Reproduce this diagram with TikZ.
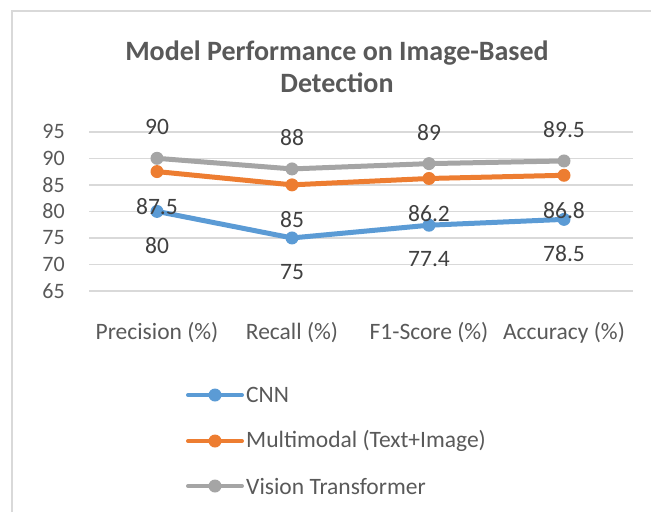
\documentclass[tikz,border=0pt]{standalone}
\usepackage{fontspec}
\setmainfont{Carlito}
\usepackage{xcolor}
\usetikzlibrary{calc}
\definecolor{cnnblue}{HTML}{5B9BD5}
\definecolor{mmorange}{HTML}{ED7D31}
\definecolor{vitgray}{HTML}{A5A5A5}
\definecolor{txtgray}{HTML}{595959}
\definecolor{lblgray}{HTML}{404040}
\definecolor{gridgray}{HTML}{D9D9D9}

\begin{document}
\begin{tikzpicture}[x=1pt,y=-1pt,
  series/.style={line width=5pt, line join=round, line cap=round},
  dot/.style={circle, fill=#1, inner sep=0pt, minimum size=13pt},
  val/.style={text=lblgray, inner sep=0pt, font=\fontsize{23.5}{28}\selectfont},
  tick/.style={text=txtgray, inner sep=0pt, anchor=east, font=\fontsize{22}{26}\selectfont},
  cat/.style={text=txtgray, inner sep=0pt, font=\fontsize{23.5}{28}\selectfont},
  legtext/.style={text=txtgray, inner sep=0pt, anchor=west, font=\fontsize{23.5}{28}\selectfont}]
\useasboundingbox (0,0) rectangle (651,512);
\def\py#1{158.3+(90-#1)*5.31}
% frame (only top and left edge show)
\draw[gridgray, line width=2pt] (11.5,512) -- (11.5,11) -- (651,11);
% title
\node[text=txtgray, align=center, inner sep=0pt,
  font=\bfseries\fontsize{28}{31.5}\selectfont] (title) at (337,67)
  {Model Performance on Image-Based\\Detection};
% grid and y axis
\foreach \v in {65,70,...,95} {
  \draw[gridgray, line width=1.5pt] (89,{\py{\v}}) -- (633,{\py{\v}});
  \node[tick] (tick\v) at (65,{\py{\v}}) {\v};
}
% categories
\node[cat] (c1) at (157,333) {Precision (\%)};
\node[cat] (c2) at (292,333) {Recall (\%)};
\node[cat] (c3) at (429,333) {F1-Score (\%)};
\node[cat] (c4) at (564,333) {Accuracy (\%)};
% data points
\coordinate (v1) at (157,{\py{90}});
\coordinate (v2) at (292,{\py{88}});
\coordinate (v3) at (429,{\py{89}});
\coordinate (v4) at (564,{\py{89.5}});
\coordinate (m1) at (157,{\py{87.5}});
\coordinate (m2) at (292,{\py{85}});
\coordinate (m3) at (429,{\py{86.2}});
\coordinate (m4) at (564,{\py{86.8}});
\coordinate (n1) at (157,{\py{80}});
\coordinate (n2) at (292,{\py{75}});
\coordinate (n3) at (429,{\py{77.4}});
\coordinate (n4) at (564,{\py{78.5}});
% lines
\draw[series, vitgray] (v1) -- (v2) -- (v3) -- (v4);
\draw[series, mmorange] (m1) -- (m2) -- (m3) -- (m4);
\draw[series, cnnblue] (n1) -- (n2) -- (n3) -- (n4);
\node[dot=vitgray] at (v1) {}; \node[dot=vitgray] at (v2) {};
\node[dot=vitgray] at (v3) {}; \node[dot=vitgray] at (v4) {};
\node[dot=mmorange] at (m1) {}; \node[dot=mmorange] at (m2) {};
\node[dot=mmorange] at (m3) {}; \node[dot=mmorange] at (m4) {};
\node[dot=cnnblue] at (n1) {}; \node[dot=cnnblue] at (n2) {};
\node[dot=cnnblue] at (n3) {}; \node[dot=cnnblue] at (n4) {};
% data labels
\node[val] (lv1) at ([yshift=31pt]v1) {90};
\node[val] (lv2) at ([yshift=31pt]v2) {88};
\node[val] (lv3) at ([yshift=31pt]v3) {89};
\node[val] (lv4) at ([yshift=31pt]v4) {89.5};
\node[val] (lm1) at ([yshift=-35pt]m1) {87.5};
\node[val] (lm2) at ([yshift=-35pt]m2) {85};
\node[val] (lm3) at ([yshift=-35pt]m3) {86.2};
\node[val] (lm4) at ([yshift=-35pt]m4) {86.8};
\node[val] (ln1) at ([yshift=-34pt]n1) {80};
\node[val] (ln2) at ([yshift=-34pt]n2) {75};
\node[val] (ln3) at ([yshift=-34pt]n3) {77.4};
\node[val] (ln4) at ([yshift=-34pt]n4) {78.5};
% legend
\coordinate (la1) at (188,395); \coordinate (lb1) at (242,395);
\coordinate (la2) at (188,441); \coordinate (lb2) at (242,441);
\coordinate (la3) at (188,486); \coordinate (lb3) at (242,486);
\draw[series, cnnblue, line width=4pt] (la1) -- (lb1);
\node[dot=cnnblue] (ld1) at ($(la1)!0.5!(lb1)$) {};
\draw[series, mmorange, line width=4pt] (la2) -- (lb2);
\node[dot=mmorange] (ld2) at ($(la2)!0.5!(lb2)$) {};
\draw[series, vitgray, line width=4pt] (la3) -- (lb3);
\node[dot=vitgray] (ld3) at ($(la3)!0.5!(lb3)$) {};
\node[legtext] (lt1) at ([xshift=4pt]lb1) {CNN};
\node[legtext] (lt2) at ([xshift=4pt]lb2) {Multimodal (Text+Image)};
\node[legtext] (lt3) at ([xshift=4pt]lb3) {Vision Transformer};
\end{tikzpicture}
\end{document}
